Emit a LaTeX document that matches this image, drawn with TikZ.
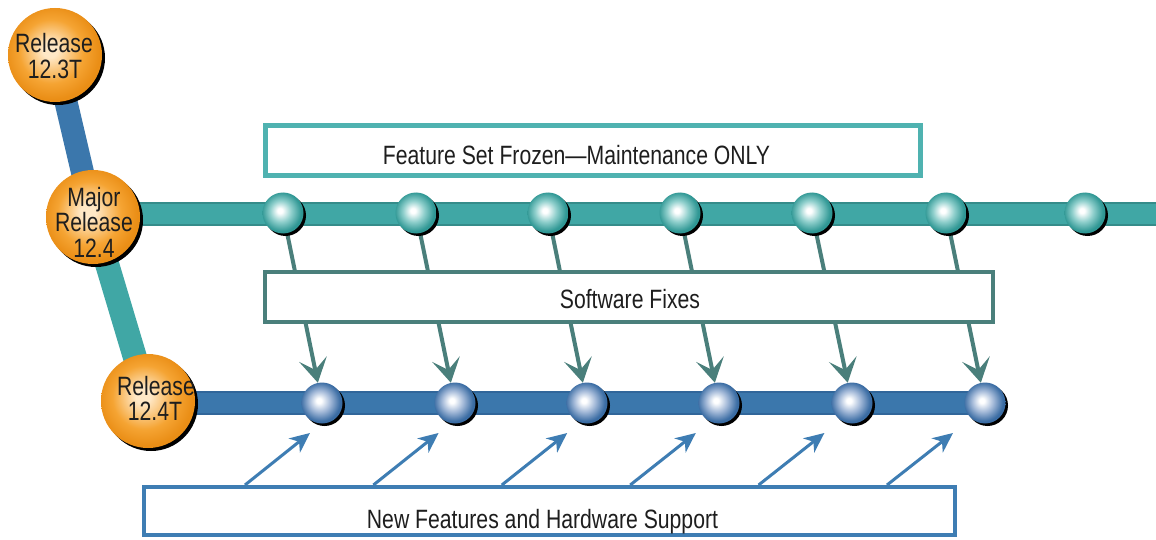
\documentclass[tikz,border=0pt]{standalone}
\usepackage{fontspec}
\setmainfont{Liberation Sans}[FakeStretch=0.80]
\usetikzlibrary{arrows.meta,shadows}
\definecolor{tealline}{HTML}{40A7A5}
\definecolor{tealedge}{HTML}{358C8A}
\definecolor{tealbox}{HTML}{4FB2B0}
\definecolor{fixc}{HTML}{4A7F7B}
\definecolor{blueline}{HTML}{3B77AC}
\definecolor{blueedge}{HTML}{31669A}
\definecolor{bluearr}{HTML}{3E7DB3}
\definecolor{orhi}{HTML}{FFE8C6}
\definecolor{orng}{HTML}{F5A433}
\definecolor{orngdark}{HTML}{EA8E16}
\definecolor{tealmid}{HTML}{8FCFCC}
\definecolor{tealsph}{HTML}{2F9794}
\definecolor{bluemid}{HTML}{A3B9D8}
\definecolor{bluesph}{HTML}{3A6CA3}
\definecolor{txt}{HTML}{1E1E1E}
\pgfdeclareradialshading{orball}{\pgfpoint{-3bp}{3bp}}{color(0bp)=(orhi); color(4bp)=(orhi); color(17bp)=(orng); color(25bp)=(orngdark); color(50bp)=(orngdark)}
\pgfdeclareradialshading{tealball}{\pgfpoint{-4bp}{3bp}}{color(0bp)=(white); color(3bp)=(white); color(13bp)=(tealmid); color(24bp)=(tealsph); color(50bp)=(tealsph)}
\pgfdeclareradialshading{blueball}{\pgfpoint{-4bp}{3bp}}{color(0bp)=(white); color(3bp)=(white); color(13bp)=(bluemid); color(24bp)=(bluesph); color(50bp)=(bluesph)}
\pgfdeclarelayer{bg}
\pgfdeclarelayer{mid}
\pgfsetlayers{bg,mid,main}
\tikzset{
  sh/.style={drop shadow={shadow xshift=3pt,shadow yshift=-3pt,fill=black,opacity=1}},
  orc/.style={circle,minimum size=94pt,inner sep=0pt,shading=orball,sh},
  tsph/.style={circle,minimum size=41pt,inner sep=0pt,shading=tealball,drop shadow={shadow xshift=2.5pt,shadow yshift=-2.5pt,fill=black,opacity=1}},
  bsph/.style={circle,minimum size=41pt,inner sep=0pt,shading=blueball,drop shadow={shadow xshift=2.5pt,shadow yshift=-2.5pt,fill=black,opacity=1}},
  lbl/.style={inner sep=0pt,anchor=base,text=txt,font=\fontsize{26.5}{26.5}\selectfont},
  boxn/.style={draw,fill=white,inner sep=0pt,rectangle},
  fixarrow/.style={fixc,line width=4pt,-{Stealth[length=24pt,width=28pt,inset=11pt]}},
  newarrow/.style={bluearr,line width=3pt,-{Stealth[length=20pt,width=18pt,inset=6pt]}},
}
\begin{document}
\begin{tikzpicture}[x=1pt,y=-1pt]
\useasboundingbox (0,0) rectangle (1156,540);
% release circles
\node[orc] (r123) at (55,55) {};
\node[orc] (maj) at (93,217) {};
\node[orc] (r124t) at (148,401) {};
\node[lbl] (l123a) at (54,53) {Release};
\node[lbl] (l123b) at (55,79) {12.3T};
\node[lbl] (lmaja) at (94,207) {Major};
\node[lbl] (lmajb) at (94,232) {Release};
\node[lbl] (lmajc) at (94,257) {12.4};
\node[lbl] (l124a) at (156,395) {Release};
\node[lbl] (l124b) at (155,420) {12.4T};
% boxes
\node[boxn,draw=tealbox,line width=5pt,minimum width=655pt,minimum height=50pt] (frozen) at (593,150.5) {};
\node[lbl] (frozentxt) at (576.5,165) {Feature Set Frozen—Maintenance ONLY};
\node[boxn,draw=fixc,line width=4pt,minimum width=728pt,minimum height=50pt] (fixes) at (629,297) {};
\node[lbl] (fixestxt) at (630,308) {Software Fixes};
\node[boxn,draw=bluearr,line width=4pt,minimum width=811pt,minimum height=48pt] (newf) at (549.5,511) {};
\node[lbl] (newftxt) at (542.5,528) {New Features and Hardware Support};
% top spheres
\foreach \i/\x in {1/283,2/416,3/548,4/680,5/812,6/946,7/1085}
  \node[tsph] (t\i) at (\x,213) {};
% bottom spheres
\foreach \i/\x in {1/322,2/455,3/587,4/719,5/852,6/985}
  \node[bsph] (b\i) at (\x,403) {};
\coordinate (topend) at (1160,214);
% blue arrow ends
\foreach \i in {0,...,5} {
  \coordinate (s\i) at ({245+128.4*\i},485);
  \coordinate (e\i) at ({310+128.6*\i},433);
}
\begin{pgfonlayer}{bg}
  \fill[white] (0,0) rectangle (1156,540);
  \draw[blueline,line width=23pt] (r123.center) -- (maj.center);
  \draw[tealline,line width=24pt] (maj.center) -- (r124t.center);
  \draw[tealedge,line width=24pt] (maj.center |- topend) -- (topend);
  \draw[tealline,line width=20pt] (maj.center |- topend) -- (topend);
  \draw[blueedge,line width=24pt] (r124t.center |- b1) -- (b6.center);
  \draw[blueline,line width=20pt] (r124t.center |- b1) -- (b6.center);
\end{pgfonlayer}
\begin{pgfonlayer}{mid}
  \foreach \i in {1,...,6}
    \draw[fixarrow] (t\i) -- (b\i);
  \foreach \i in {0,...,5}
    \draw[newarrow] (s\i) -- (e\i);
\end{pgfonlayer}
\end{tikzpicture}
\end{document}
